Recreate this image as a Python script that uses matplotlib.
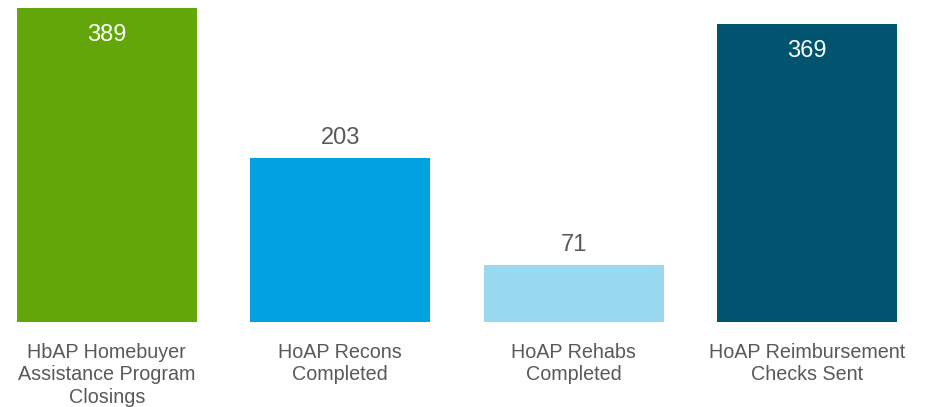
import matplotlib.pyplot as plt
import numpy as np

plt.rcParams['font.family'] = ['Liberation Sans', 'DejaVu Sans']

categories = ["HbAP Homebuyer\nAssistance Program\nClosings",
              "HoAP Recons\nCompleted",
              "HoAP Rehabs\nCompleted",
              "HoAP Reimbursement\nChecks Sent"]
values = [389, 203, 71, 369]
colors = ["#62A60A", "#00A3E0", "#99D9F0", "#005470"]
inside = [True, False, False, True]

W, H = 934, 407
fig = plt.figure(figsize=(W / 100, H / 100), dpi=100)
ax = fig.add_axes([17 / W, (H - 322) / H, 880 / W, 314 / H])

x = np.arange(len(values))
bw = 0.77
ax.bar(x, values, width=bw, color=colors)
ax.set_xlim(-bw / 2, len(values) - 1 + bw / 2)
ax.set_ylim(0, max(values))
ax.axis("off")

grey = "#595959"
for xi, v, ins in zip(x, values, inside):
    if ins:
        ax.annotate(str(v), (xi, v), xytext=(0, -27), textcoords="offset pixels",
                    ha="center", va="center", fontsize=17, color="white")
    else:
        ax.annotate(str(v), (xi, v), xytext=(0, 20), textcoords="offset pixels",
                    ha="center", va="center", fontsize=17, color=grey)

for xi, lab in zip(x, categories):
    ax.annotate(lab, (xi, 0), xytext=(0, -21), textcoords="offset pixels",
                ha="center", va="top", fontsize=14.2, color=grey, linespacing=1.22)

fig.savefig("out.png", dpi=100)
